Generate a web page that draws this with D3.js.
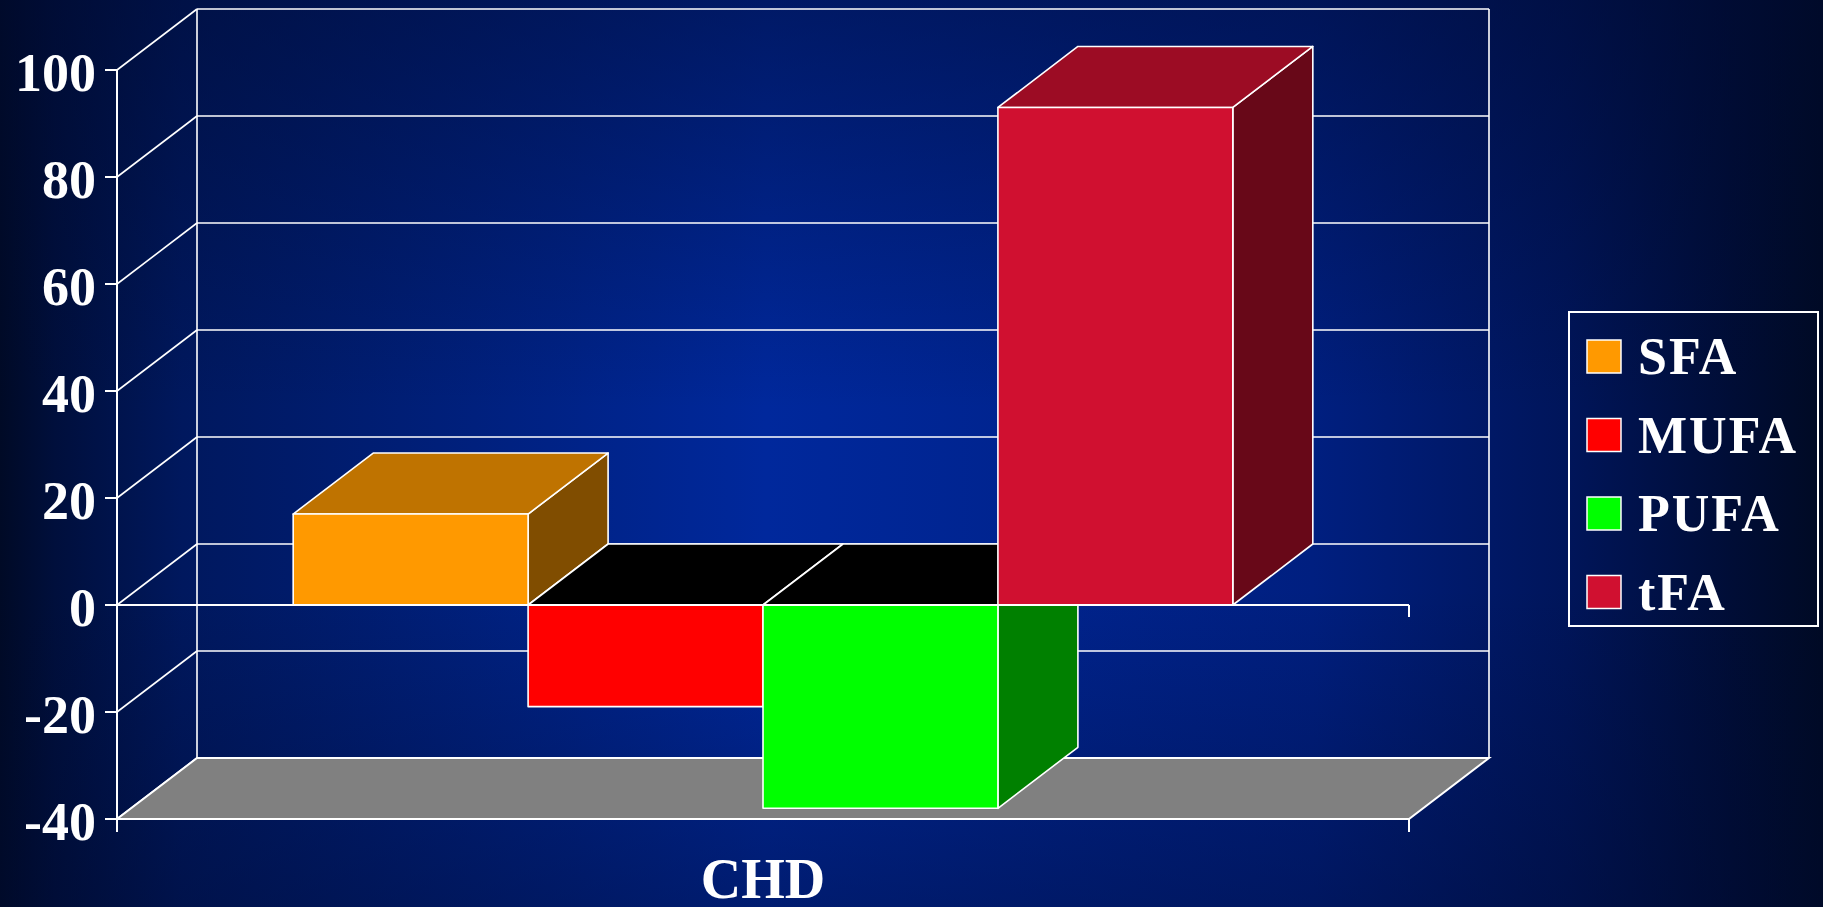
<!DOCTYPE html>
<html>
<head>
<meta charset="utf-8">
<script src="https://cdnjs.cloudflare.com/ajax/libs/d3/7.8.5/d3.min.js"></script>
<style>
  html, body { margin: 0; padding: 0; background: #001040; overflow: hidden; }
  text { font-family: "Liberation Serif", "DejaVu Serif", serif; font-weight: bold; fill: #ffffff; }
</style>
</head>
<body>
<script>
var categories = ['CHD'];
var seriesNames = ['SFA', 'MUFA', 'PUFA', 'tFA'];
var seriesValues = [17, -19, -38, 93];
var seriesColors = ['#FF9900', '#FF0000', '#00FF00', '#D01030'];
var yTicks = [-40, -20, 0, 20, 40, 60, 80, 100];

function shade(c, k){
  var rgb = d3.rgb(c);
  return d3.rgb(rgb.r * k, rgb.g * k, rgb.b * k).formatHex();
}

var initialize = function(){
  var screen = {
    width: 1823,
    height: 907
  }
  var plot = {
    left: 117,
    right: 1409,
    top: 70,
    bottom: 819
  }
  // 3d depth offset of the back wall
  var depth = { dx: 80, dy: 61 };

  var svg = d3.select('body')
              .append('svg')
              .attr('width', screen.width)
              .attr('height', screen.height);

  // BACKGROUND //
  var defs = svg.append('defs');
  var hGrad = defs.append('linearGradient')
                  .attr('id', 'bgH')
                  .attr('x1', '0').attr('x2', '1').attr('y1', '0').attr('y2', '0');
  [[0, '#000a26'], [0.03, '#000f3c'], [0.1, '#00185e'], [0.42, '#00289c'],
   [0.72, '#001f80'], [0.86, '#00155a'], [0.95, '#000d36'], [1, '#000a24']].forEach(function(s){
    hGrad.append('stop').attr('offset', s[0]).attr('stop-color', s[1]);
  });
  var vGrad = defs.append('linearGradient')
                  .attr('id', 'bgV')
                  .attr('x1', '0').attr('x2', '0').attr('y1', '0').attr('y2', '1');
  [[0, 0.5], [0.45, 0], [0.65, 0], [1, 0.4]].forEach(function(s){
    vGrad.append('stop').attr('offset', s[0]).attr('stop-color', '#000a30').attr('stop-opacity', s[1]);
  });
  svg.append('rect').attr('width', screen.width).attr('height', screen.height).attr('fill', 'url(#bgH)');
  svg.append('rect').attr('width', screen.width).attr('height', screen.height).attr('fill', 'url(#bgV)');

  var yScale = d3.scaleLinear()
                 .domain([d3.min(yTicks), d3.max(yTicks)])
                 .range([plot.bottom, plot.top]);
  var x0 = d3.scaleBand()
             .domain(categories)
             .range([plot.left, plot.right])
             .paddingInner(0)
             .paddingOuter(0.1875);
  var x1 = d3.scaleBand()
             .domain(seriesNames)
             .range([0, x0.bandwidth()]);

  var yMin = yScale(d3.min(yTicks));
  var yMax = yScale(d3.max(yTicks));

  // WALLS AND GRIDLINES //
  var walls = svg.append('g')
                 .attr('stroke', '#ffffff')
                 .attr('stroke-width', 1.6)
                 .attr('fill', 'none');
  walls.selectAll('.diag')
       .data(yTicks)
       .enter()
       .append('line')
       .attr('x1', plot.left)
       .attr('y1', function(d){ return yScale(d); })
       .attr('x2', plot.left + depth.dx)
       .attr('y2', function(d){ return yScale(d) - depth.dy; });
  walls.selectAll('.grid')
       .data(yTicks)
       .enter()
       .append('line')
       .attr('x1', plot.left + depth.dx)
       .attr('y1', function(d){ return yScale(d) - depth.dy; })
       .attr('x2', plot.right + depth.dx)
       .attr('y2', function(d){ return yScale(d) - depth.dy; });
  walls.append('line')
       .attr('x1', plot.left + depth.dx).attr('x2', plot.left + depth.dx)
       .attr('y1', yMax - depth.dy).attr('y2', yMin - depth.dy);
  walls.append('line')
       .attr('x1', plot.right + depth.dx).attr('x2', plot.right + depth.dx)
       .attr('y1', yMax - depth.dy).attr('y2', yMin - depth.dy);

  // FLOOR //
  svg.append('path')
     .attr('d', 'M' + plot.left + ',' + yMin +
                'L' + plot.right + ',' + yMin +
                'L' + (plot.right + depth.dx) + ',' + (yMin - depth.dy) +
                'L' + (plot.left + depth.dx) + ',' + (yMin - depth.dy) + 'Z')
     .attr('fill', '#808080')
     .attr('stroke', '#ffffff')
     .attr('stroke-width', 2);

  // BARS //
  var y0 = yScale(0);
  var bars = svg.append('g')
                .selectAll('g')
                .data(categories)
                .enter()
                .append('g')
                .attr('transform', function(d){ return 'translate(' + x0(d) + ',0)'; });

  seriesNames.forEach(function(name, i){
    var v = seriesValues[i];
    var c = seriesColors[i];
    var xa = x1(name);
    var xb = xa + x1.bandwidth();
    var yTop = Math.min(yScale(v), y0);
    var yBot = Math.max(yScale(v), y0);
    var g = bars.append('g')
                .attr('stroke', '#ffffff')
                .attr('stroke-width', 1.6)
                .attr('stroke-linejoin', 'round');
    // side face
    g.append('path')
     .attr('d', 'M' + xb + ',' + yTop +
                'L' + (xb + depth.dx) + ',' + (yTop - depth.dy) +
                'L' + (xb + depth.dx) + ',' + (yBot - depth.dy) +
                'L' + xb + ',' + yBot + 'Z')
     .attr('fill', shade(c, 0.5));
    // top face (negative bars show a dark cap at zero)
    g.append('path')
     .attr('d', 'M' + xa + ',' + yTop +
                'L' + xb + ',' + yTop +
                'L' + (xb + depth.dx) + ',' + (yTop - depth.dy) +
                'L' + (xa + depth.dx) + ',' + (yTop - depth.dy) + 'Z')
     .attr('fill', v < 0 ? '#000000' : shade(c, 0.75));
    // front face
    g.append('rect')
     .attr('x', xa)
     .attr('y', yTop)
     .attr('width', xb - xa)
     .attr('height', yBot - yTop)
     .attr('fill', c);
  });

  // AXES //
  var axes = svg.append('g')
                .attr('stroke', '#ffffff')
                .attr('stroke-width', 2);
  axes.append('line')
      .attr('x1', plot.left).attr('x2', plot.left)
      .attr('y1', yMax).attr('y2', yMin + 13);
  axes.selectAll('.ytick')
      .data(yTicks)
      .enter()
      .append('line')
      .attr('x1', plot.left - 12).attr('x2', plot.left)
      .attr('y1', function(d){ return yScale(d); })
      .attr('y2', function(d){ return yScale(d); });
  axes.append('line')
      .attr('x1', plot.left).attr('x2', plot.right)
      .attr('y1', y0).attr('y2', y0);
  axes.append('line')
      .attr('x1', plot.right).attr('x2', plot.right)
      .attr('y1', y0).attr('y2', y0 + 12);
  axes.append('line')
      .attr('x1', plot.right).attr('x2', plot.right)
      .attr('y1', yMin).attr('y2', yMin + 13);

  svg.append('g')
     .selectAll('text')
     .data(yTicks)
     .enter()
     .append('text')
     .attr('x', 96)
     .attr('y', function(d){ return yScale(d) + 21; })
     .attr('text-anchor', 'end')
     .attr('font-size', 54)
     .text(function(d){ return d < 0 ? '-' + Math.abs(d) : d; });

  svg.append('g')
     .selectAll('text')
     .data(categories)
     .enter()
     .append('text')
     .attr('x', function(d){ return x0(d) + x0.bandwidth() / 2; })
     .attr('y', 898)
     .attr('text-anchor', 'middle')
     .attr('font-size', 56)
     .text(function(d){ return d; });

  // LEGEND //
  var legend = svg.append('g')
                  .attr('transform', 'translate(1569,312)');
  legend.append('rect')
        .attr('width', 249)
        .attr('height', 314)
        .attr('fill', 'none')
        .attr('stroke', '#ffffff')
        .attr('stroke-width', 2);
  var items = legend.selectAll('.item')
                    .data(seriesNames)
                    .enter()
                    .append('g')
                    .attr('transform', function(d, i){ return 'translate(18,' + (28 + i * 78.5) + ')'; });
  items.append('rect')
       .attr('width', 34)
       .attr('height', 33)
       .attr('fill', function(d, i){ return seriesColors[i]; })
       .attr('stroke', '#ffffff')
       .attr('stroke-width', 1.5);
  items.append('text')
       .attr('x', 51)
       .attr('y', 34)
       .attr('font-size', 52)
       .attr('letter-spacing', 2)
       .text(function(d){ return d; });
}

initialize();
</script>
</body>
</html>
